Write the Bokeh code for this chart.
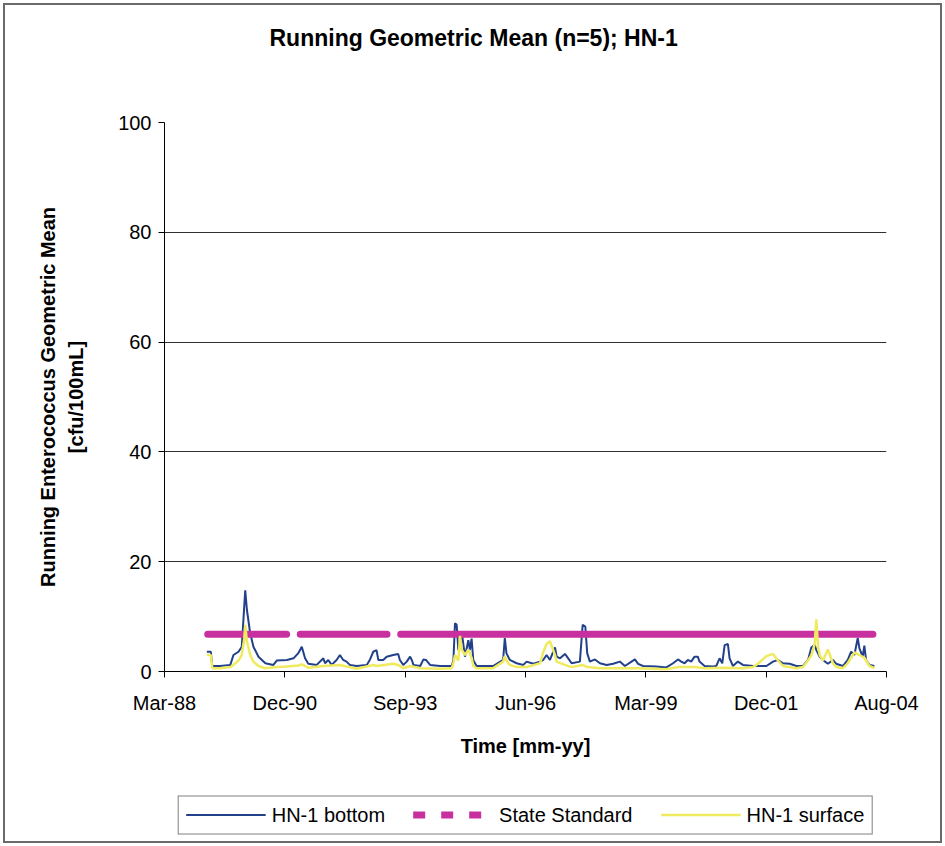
import numpy as np
import pandas as pd
from bokeh.plotting import figure
from bokeh.models import (Range1d, FixedTicker, DatetimeTickFormatter, Legend,
                          LegendItem, Title, ColumnDataSource)
from bokeh.embed import file_html
from bokeh.resources import INLINE

# ---------------- data ----------------
title_text = "Running Geometric Mean (n=5); HN-1"
x_title = "Time [mm-yy]"
y_title = "Running Enterococcus Geometric Mean\n[cfu/100mL]"

axis_start = "1988-03-26"
tick_step_days = 1000
n_ticks = 7
y_ticks = [0, 20, 40, 60, 80, 100]
grid_ticks = [20, 40, 60, 80]

bottom_dates = [
    "1989-03-13", "1989-04-15", "1989-04-27", "1989-07-01", "1989-09-24", "1989-10-20",
    "1989-12-01", "1989-12-28", "1990-01-18", "1990-01-26", "1990-02-09", "1990-03-08",
    "1990-04-04", "1990-05-16", "1990-07-12", "1990-09-17", "1990-10-15", "1991-01-07",
    "1991-03-03", "1991-04-14", "1991-05-11", "1991-06-07", "1991-07-04", "1991-09-12",
    "1991-11-06", "1991-11-20", "1991-12-17", "1992-01-14", "1992-02-24", "1992-03-23",
    "1992-04-19", "1992-05-17", "1992-06-13", "1992-08-09", "1992-11-01", "1992-11-28",
    "1992-12-25", "1993-01-21", "1993-02-05", "1993-03-18", "1993-04-15", "1993-06-09",
    "1993-07-20", "1993-08-03", "1993-08-31", "1993-09-29", "1993-10-27", "1993-11-10",
    "1993-11-24", "1994-01-19", "1994-02-15", "1994-03-08", "1994-04-11", "1994-07-03",
    "1994-10-08", "1994-10-22", "1994-11-04", "1994-11-18", "1994-12-02", "1994-12-16",
    "1994-12-30", "1995-01-26", "1995-02-23", "1995-03-08", "1995-03-22", "1995-04-05",
    "1995-05-02", "1995-09-17", "1995-12-09", "1995-12-23", "1996-01-06", "1996-02-03",
    "1996-03-30", "1996-05-25", "1996-06-21", "1996-08-16", "1996-10-11", "1996-11-06",
    "1996-12-04", "1997-01-01", "1997-02-12", "1997-02-26", "1997-03-26", "1997-05-06",
    "1997-06-02", "1997-06-30", "1997-09-07", "1997-09-30", "1997-10-22", "1997-11-07",
    "1997-11-29", "1998-01-10", "1998-02-21", "1998-04-17", "1998-06-11", "1998-08-05",
    "1998-09-16", "1998-11-10", "1998-12-08", "1999-01-04", "1999-02-14", "1999-06-05",
    "1999-08-27", "1999-10-21", "1999-12-01", "1999-12-28", "2000-01-25", "2000-02-21",
    "2000-03-20", "2000-04-17", "2000-05-14", "2000-05-28", "2000-07-09", "2000-09-16",
    "2000-10-14", "2000-11-11", "2000-12-03", "2000-12-23", "2001-01-19", "2001-02-02",
    "2001-03-02", "2001-04-12", "2001-05-24", "2001-08-15", "2001-12-05", "2002-01-29",
    "2002-03-11", "2002-04-22", "2002-06-17", "2002-08-11", "2002-10-05", "2002-11-16",
    "2002-12-14", "2003-01-10", "2003-01-24", "2003-02-21", "2003-03-20", "2003-04-30",
    "2003-06-11", "2003-07-08", "2003-09-01", "2003-10-12", "2003-11-09", "2003-12-06",
    "2004-01-03", "2004-01-17", "2004-02-13", "2004-02-27", "2004-03-12", "2004-04-09",
    "2004-05-20",
]
bottom_values = [
    3.6, 3.6, 1.0, 1.0, 1.2, 3.0,
    3.6, 4.5, 12.0, 14.8, 11.2, 7.0,
    4.5, 2.7, 1.5, 1.2, 2.0, 2.1,
    2.4, 3.4, 4.5, 2.4, 1.4, 1.2,
    2.4, 1.5, 2.1, 1.2, 2.1, 3.0,
    2.1, 1.8, 1.2, 1.0, 1.2, 2.2,
    3.6, 3.9, 2.1, 2.1, 2.7, 3.0,
    3.2, 2.1, 1.2, 1.8, 2.7, 2.1,
    1.2, 1.0, 2.2, 2.1, 1.2, 1.0,
    1.0, 2.1, 8.8, 8.5, 3.9, 5.1,
    7.2, 2.7, 5.7, 3.9, 6.0, 2.1,
    1.0, 1.0, 2.1, 6.1, 3.3, 2.1,
    1.5, 1.2, 1.8, 1.4, 1.8, 2.1,
    3.0, 2.1, 4.4, 2.7, 2.4, 3.2,
    2.4, 1.5, 1.8, 8.5, 8.2, 3.3,
    1.8, 2.2, 1.5, 1.2, 1.4, 1.8,
    1.0, 1.8, 2.2, 1.4, 1.0, 0.9,
    0.75, 1.5, 2.2, 1.8, 1.5, 2.1,
    1.8, 2.7, 2.7, 1.8, 1.0, 0.9,
    1.0, 2.4, 1.5, 4.8, 5.0, 2.4,
    1.0, 1.8, 1.2, 1.0, 1.0, 1.8,
    2.1, 1.5, 1.4, 1.0, 1.0, 2.1,
    4.4, 4.8, 3.9, 2.7, 2.1, 1.4,
    2.1, 1.4, 1.0, 2.1, 3.6, 3.0,
    6.1, 4.2, 2.7, 4.7, 2.1, 1.2,
    1.0,
]

surface_dates = [
    "1989-03-13", "1989-04-15", "1989-04-27", "1989-07-01", "1989-09-24", "1989-10-20",
    "1989-12-01", "1989-12-28", "1990-01-18", "1990-01-26", "1990-02-09", "1990-03-08",
    "1990-04-04", "1990-05-16", "1990-07-12", "1990-10-15", "1991-01-07", "1991-04-14",
    "1991-05-11", "1991-07-04", "1991-11-06", "1992-03-23", "1992-08-09", "1992-12-25",
    "1993-01-21", "1993-06-09", "1993-07-20", "1993-08-31", "1993-10-27", "1994-01-19",
    "1994-07-03", "1994-10-08", "1994-10-22", "1994-11-04", "1994-11-18", "1994-12-02",
    "1994-12-16", "1994-12-30", "1995-01-26", "1995-02-23", "1995-03-22", "1995-04-05",
    "1995-05-02", "1995-09-17", "1995-12-09", "1995-12-23", "1996-01-06", "1996-02-03",
    "1996-03-30", "1996-06-21", "1996-10-11", "1996-11-06", "1996-12-04", "1997-01-01",
    "1997-02-12", "1997-02-26", "1997-05-06", "1997-06-30", "1997-09-30", "1997-11-07",
    "1998-02-21", "1999-01-04", "1999-08-27", "1999-12-01", "2000-04-17", "2000-07-09",
    "2000-12-23", "2001-05-24", "2001-08-15", "2001-10-01", "2001-12-05", "2002-01-29",
    "2002-03-11", "2002-04-22", "2002-08-11", "2002-10-05", "2002-11-16", "2002-12-14",
    "2003-01-10", "2003-01-24", "2003-02-07", "2003-02-21", "2003-03-20", "2003-04-30",
    "2003-06-11", "2003-07-08", "2003-09-01", "2003-10-12", "2003-11-09", "2003-12-06",
    "2004-01-17", "2004-02-27", "2004-04-09", "2004-05-20",
]
surface_values = [
    3.0, 3.0, 0.6, 0.6, 0.8, 1.2,
    2.0, 3.0, 6.0, 8.5, 5.5, 3.0,
    1.8, 1.0, 0.6, 0.8, 0.9, 1.1,
    1.3, 0.7, 1.0, 1.2, 0.5, 1.2,
    1.0, 1.4, 1.2, 0.6, 1.0, 0.6,
    0.5, 0.6, 1.5, 3.0, 2.5, 2.0,
    6.5, 4.0, 3.0, 4.0, 2.5, 1.0,
    0.6, 0.6, 1.8, 2.8, 2.0, 1.2,
    0.8, 0.8, 1.5, 3.5, 5.0, 5.5,
    3.0, 1.8, 1.2, 0.8, 1.2, 0.8,
    0.6, 0.6, 0.4, 0.8, 0.8, 0.6,
    0.7, 0.6, 0.8, 1.5, 2.8, 3.2,
    2.0, 1.0, 0.6, 0.8, 2.0, 3.0,
    5.0, 9.5, 4.5, 3.0, 2.0, 4.0,
    1.5, 0.8, 0.6, 1.5, 2.5, 3.5,
    3.0, 2.5, 1.0, 0.6,
]

standard_dates = ["1989-03-20", "1991-01-05", "1991-02-15", "1991-04-28",
                  "1993-04-18", "1993-06-01", "1993-08-10", "2004-05-08"]
standard_values = [6.8, 6.8, None, 6.8, 6.8, None, 6.8, 6.8]

series_labels = ["HN-1 bottom", "State Standard", "HN-1 surface"]

# ---------------- styles ----------------
FONT = "Liberation Sans, Arial, sans-serif"
C_BOTTOM = "#22418a"
C_STD = "#c8309f"
C_SURF = "#f0ea5e"

t0 = pd.Timestamp(axis_start)
tick_ts = [t0 + pd.Timedelta(days=tick_step_days * k) for k in range(n_ticks)]
tick_ms = [ts.value // 10**6 for ts in tick_ts]

std_y = np.array([np.nan if v is None else v for v in standard_values], dtype=float)
src_b = ColumnDataSource(dict(x=pd.to_datetime(bottom_dates), y=np.array(bottom_values, dtype=float)))
src_s = ColumnDataSource(dict(x=pd.to_datetime(surface_dates), y=np.array(surface_values, dtype=float)))
src_std = ColumnDataSource(dict(x=pd.to_datetime(standard_dates), y=std_y))
# one hidden point, only used to draw the dashed legend sample
src_std_key = ColumnDataSource(dict(x=pd.to_datetime(standard_dates[:1]), y=np.array([np.nan])))

p = figure(frame_width=722, frame_height=549, x_axis_type="datetime",
           x_range=Range1d(tick_ts[0].to_pydatetime(), tick_ts[-1].to_pydatetime()),
           y_range=Range1d(0, 100),
           output_backend="svg", toolbar_location=None,
           min_border_left=164, min_border_right=59, min_border_top=122, min_border_bottom=40,
           background_fill_color="white", border_fill_color=None)
p.outline_line_color = None
p.stylesheets = [":host { outline: 2px solid #6a6a6a; outline-offset: -5px; "
                 "height: 846px !important; max-height: 846px; overflow: hidden; }"]

# title (outermost) and a spacer between it and the frame
p.title.text = title_text
p.title.align = "left"
p.title.offset = 105
p.title.vertical_align = "bottom"
p.title.standoff = 10
p.title.text_font = FONT
p.title.text_font_size = "23px"
p.title.text_font_style = "bold"
p.title.text_color = "black"
p.add_layout(Title(text=" ", text_font_size="2px", standoff=63), "above")

r_b = p.line("x", "y", source=src_b, line_color=C_BOTTOM, line_width=2)
r_std = p.line("x", "y", source=src_std, line_color=C_STD, line_width=7, line_cap="round")
r_s = p.line("x", "y", source=src_s, line_color=C_SURF, line_width=2.5)
r_key = p.line("x", "y", source=src_std_key, line_color=C_STD, line_width=7, line_dash="12 16")

# axes
p.xaxis.ticker = FixedTicker(ticks=tick_ms)
fmt = "%b-%y"
p.xaxis.formatter = DatetimeTickFormatter(milliseconds=fmt, seconds=fmt, minsec=fmt, minutes=fmt,
                                          hourmin=fmt, hours=fmt, days=fmt, months=fmt, years=fmt)
p.yaxis.ticker = FixedTicker(ticks=y_ticks)
for ax in (p.xaxis, p.yaxis):
    ax.axis_line_color = "black"
    ax.axis_line_width = 1
    ax.major_tick_line_color = "black"
    ax.major_tick_out = 6
    ax.major_tick_in = 0
    ax.minor_tick_line_color = None
    ax.major_label_text_font = FONT
    ax.major_label_text_font_size = "20px"
    ax.major_label_text_color = "black"
    ax.axis_label_text_font = FONT
    ax.axis_label_text_font_size = "20px"
    ax.axis_label_text_font_style = "bold"
    ax.axis_label_text_color = "black"

p.xaxis.axis_label = x_title
p.xaxis.major_label_standoff = 14
p.xaxis.axis_label_standoff = 18
p.yaxis.axis_label = y_title
p.yaxis.major_label_standoff = 7
p.yaxis.axis_label_standoff = 28
p.yaxis.axis_label_text_line_height = 1.3

p.xgrid.visible = False
p.ygrid.ticker = FixedTicker(ticks=grid_ticks)
p.ygrid.grid_line_color = "#303030"
p.ygrid.grid_line_width = 1

# legend (below the x axis)
legend = Legend(items=[LegendItem(label=series_labels[0], renderers=[r_b]),
                       LegendItem(label=series_labels[1], renderers=[r_key]),
                       LegendItem(label=series_labels[2], renderers=[r_s])],
                orientation="horizontal", location="center",
                glyph_width=80, glyph_height=20, label_standoff=6, spacing=28, padding=7,
                margin=31, border_line_color="black", border_line_width=1,
                background_fill_color="white", background_fill_alpha=1,
                label_text_font=FONT, label_text_font_size="20px", label_text_color="black")
p.add_layout(legend, "below")

open("out.html", "w").write(file_html(p, INLINE))
